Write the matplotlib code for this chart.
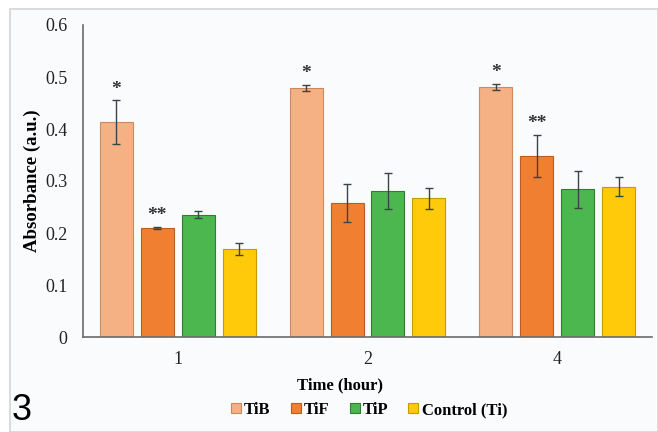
import numpy as np
import matplotlib
matplotlib.use("Agg")
import matplotlib.pyplot as plt
from matplotlib.patches import Rectangle


# DADOS

tempos = ["1", "2", "4"]
grupos = ["TiB", "TiF", "TiP", "Control (Ti)"]

valores = {
    "TiB": [0.413, 0.479, 0.481],
    "TiF": [0.210, 0.258, 0.348],
    "TiP": [0.235, 0.281, 0.284],
    "Control (Ti)": [0.169, 0.267, 0.289],
}

erros = {
    "TiB": [0.042, 0.006, 0.006],
    "TiF": [0.002, 0.036, 0.041],
    "TiP": [0.007, 0.035, 0.036],
    "Control (Ti)": [0.012, 0.020, 0.018],
}

# marcas de significancia: (grupo, indice do tempo, texto)
marcas = [
    ("TiB", 0, "*"),
    ("TiF", 0, "**"),
    ("TiB", 1, "*"),
    ("TiB", 2, "*"),
    ("TiF", 2, "**"),
]

cores = {
    "TiB": "#f5b084",
    "TiF": "#f07f32",
    "TiP": "#4db74f",
    "Control (Ti)": "#ffca0a",
}

bordas = {
    "TiB": "#c98a62",
    "TiF": "#b85e22",
    "TiP": "#2f7d33",
    "Control (Ti)": "#c79a00",
}


# FIGURA

W, H = 658, 432
fig = plt.figure(figsize=(W / 100, H / 100), dpi=100)
fig.patch.set_facecolor("white")

# painel de fundo com moldura cinza clara
fig.patches.append(
    Rectangle(
        (10 / W, 0), 1 - 10 / W, 1 - 9 / H,
        transform=fig.transFigure,
        facecolor="#fafbfc",
        edgecolor="#d4d4d4",
        linewidth=1.2,
        zorder=-10
    )
)

ax = fig.add_axes([83 / W, (H - 337) / H, (652 - 83) / W, (337 - 25) / H])
ax.set_facecolor("none")

x = np.arange(len(tempos))
largura = 0.174
passo = 0.216
offsets = [-1.5 * passo, -0.5 * passo, 0.5 * passo, 1.5 * passo]

for g, off in zip(grupos, offsets):
    ax.bar(
        x + off,
        valores[g],
        width=largura,
        color=cores[g],
        edgecolor=bordas[g],
        linewidth=0.8,
        label=g,
        yerr=erros[g],
        error_kw=dict(ecolor="#3a4448", elinewidth=1.0, capsize=3, capthick=1.0),
        zorder=2
    )

for g, i, txt in marcas:
    pos = x[i] + offsets[grupos.index(g)]
    topo = valores[g][i] + erros[g][i]
    ax.annotate(
        txt,
        (pos, topo),
        xytext=(0, 2),
        textcoords="offset points",
        ha="center",
        va="bottom",
        fontsize=14,
        fontweight="bold",
        family="Liberation Serif",
        color="#333333"
    )

ax.set_xlim(-0.5, 2.5)
ax.set_ylim(0, 0.6)
ax.set_yticks(np.arange(0, 0.61, 0.1))
ax.set_yticklabels(["0", "0.1", "0.2", "0.3", "0.4", "0.5", "0.6"])
ax.set_xticks(x)
ax.set_xticklabels(tempos)

for lab in ax.get_xticklabels() + ax.get_yticklabels():
    lab.set_family("Liberation Serif")
    lab.set_fontsize(13)
    lab.set_color("#222222")

ax.tick_params(axis="both", length=0)
ax.tick_params(axis="y", pad=11)
ax.tick_params(axis="x", pad=10)

ax.spines["top"].set_visible(False)
ax.spines["right"].set_visible(False)
ax.spines["left"].set_color("#6a6a6a")
ax.spines["bottom"].set_color("#6a6a6a")
ax.spines["left"].set_linewidth(1.2)
ax.spines["bottom"].set_linewidth(1.2)

ax.set_ylabel(
    "Absorbance (a.u.)",
    fontsize=13.5,
    fontweight="bold",
    family="Liberation Serif",
    labelpad=3
)

fig.text(
    340 / W, 1 - 385 / H,
    "Time (hour)",
    ha="center",
    va="center",
    fontsize=12,
    fontweight="bold",
    family="Liberation Serif"
)

ax.legend(
    loc="center",
    bbox_to_anchor=((369 - 83) / (652 - 83), (337 - 410) / (337 - 25)),
    ncol=4,
    frameon=False,
    handlelength=0.6,
    handleheight=0.6,
    handletextpad=0.2,
    columnspacing=1.2,
    prop=dict(family="Liberation Serif", weight="bold", size=12)
)

fig.text(
    12 / W, 1 - 410 / H,
    "3",
    ha="left",
    va="center",
    fontsize=26,
    family="Liberation Sans"
)

fig.savefig("out.png", dpi=100)
